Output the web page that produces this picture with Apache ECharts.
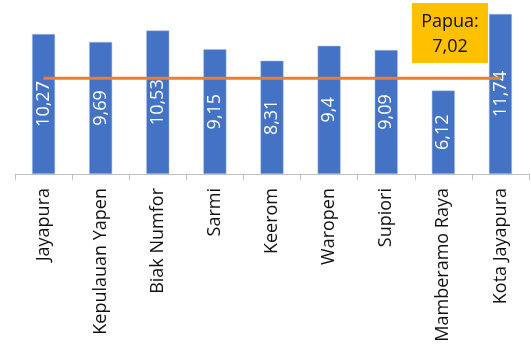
<!DOCTYPE html>
<html>
<head>
<meta charset="utf-8">
<script src="https://cdn.jsdelivr.net/npm/echarts@6/dist/echarts.min.js"></script>
<style>
  html, body { margin: 0; padding: 0; background: #ffffff; }
  #chart { width: 531px; height: 347px; }
</style>
</head>
<body>
<div id="chart"></div>
<script>
// Districts of Papua and their values, with the provincial figure as reference line
const categories = ['Jayapura', 'Kepulauan Yapen', 'Biak Numfor', 'Sarmi', 'Keerom',
  'Waropen', 'Supiori', 'Mamberamo Raya', 'Kota Jayapura'];
const values = [10.27, 9.69, 10.53, 9.15, 8.31, 9.4, 9.09, 6.12, 11.74];
const provinceName = 'Papua';
const provinceValue = 7.02;

const fmt = v => String(v).replace('.', ',');
const font = '"Open Sans", "Noto Sans", sans-serif';

const chart = echarts.init(document.getElementById('chart'), null, { renderer: 'canvas' });
chart.setOption({
  animation: false,
  grid: { left: 15, right: 2, top: 10.4, bottom: 173 },
  xAxis: {
    type: 'category',
    data: categories,
    axisLine: { lineStyle: { color: '#bfbfbf', width: 1 } },
    axisTick: { show: true, length: 6, lineStyle: { color: '#bfbfbf' } },
    axisLabel: {
      rotate: 90, color: '#111111', fontFamily: font, fontSize: 18,
      margin: 14, interval: 0
    }
  },
  yAxis: {
    type: 'value', min: 0, max: 12, show: false,
    splitLine: { show: false }
  },
  series: [
    {
      type: 'bar',
      data: values,
      barWidth: 23,
      itemStyle: { color: '#4472C4', borderColor: '#a9bfe6', borderWidth: 0.5 },
      label: {
        show: true, position: 'inside', rotate: 90,
        color: '#ffffff', fontFamily: font, fontSize: 18,
        formatter: p => fmt(p.value)
      },
      z: 2
    },
    {
      type: 'line',
      data: categories.map(() => provinceValue),
      symbol: 'none',
      lineStyle: { color: '#ED7D31', width: 3 },
      z: 3
    }
  ],
  graphic: [
    {
      type: 'group',
      left: 412, top: 3,
      children: [
        { type: 'rect', shape: { x: 0, y: 0, width: 76, height: 60 },
          style: { fill: '#FFC000' } },
        { type: 'text', x: 38, y: 31,
          style: {
            text: provinceName + ':\n' + fmt(provinceValue),
            fill: '#111111', font: '18px ' + font,
            align: 'center', verticalAlign: 'middle', lineHeight: 25
          } }
      ]
    }
  ]
});
</script>
</body>
</html>
